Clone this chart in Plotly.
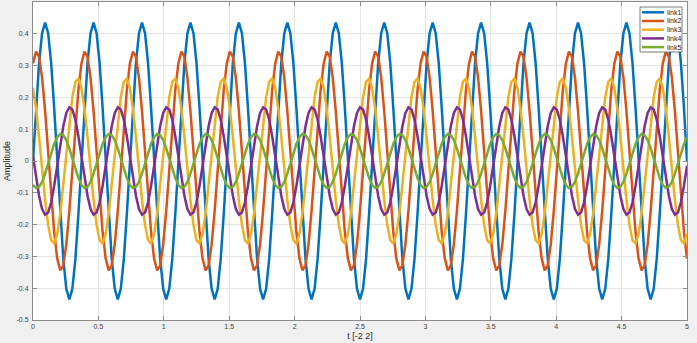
import numpy as np
import plotly.graph_objects as go

# ---------------- data ----------------
t_start, t_end, n_samples = 0.0, 5.0, 217

link1 = [
    0.0, 0.166, 0.308, 0.402, 0.435, 0.402, 0.308, 0.166, 0.0, -0.166, -0.308, -0.402, -0.435, -0.402, -0.308, -0.166,
    0.0, 0.166, 0.308, 0.402, 0.435, 0.402, 0.308, 0.166, 0.0, -0.166, -0.308, -0.402, -0.435, -0.402, -0.308, -0.166,
    0.0, 0.166, 0.308, 0.402, 0.435, 0.402, 0.308, 0.166, 0.0, -0.166, -0.308, -0.402, -0.435, -0.402, -0.308, -0.166,
    0.0, 0.166, 0.308, 0.402, 0.435, 0.402, 0.308, 0.166, 0.0, -0.166, -0.308, -0.402, -0.435, -0.402, -0.308, -0.166,
    0.0, 0.166, 0.308, 0.402, 0.435, 0.402, 0.308, 0.166, 0.0, -0.166, -0.308, -0.402, -0.435, -0.402, -0.308, -0.166,
    0.0, 0.166, 0.308, 0.402, 0.435, 0.402, 0.308, 0.166, 0.0, -0.166, -0.308, -0.402, -0.435, -0.402, -0.308, -0.166,
    0.0, 0.166, 0.308, 0.402, 0.435, 0.402, 0.308, 0.166, 0.0, -0.166, -0.308, -0.402, -0.435, -0.402, -0.308, -0.166,
    0.0, 0.166, 0.308, 0.402, 0.435, 0.402, 0.308, 0.166, 0.0, -0.166, -0.308, -0.402, -0.435, -0.402, -0.308, -0.166,
    0.0, 0.166, 0.308, 0.402, 0.435, 0.402, 0.308, 0.166, 0.0, -0.166, -0.308, -0.402, -0.435, -0.402, -0.308, -0.166,
    0.0, 0.166, 0.308, 0.402, 0.435, 0.402, 0.308, 0.166, 0.0, -0.166, -0.308, -0.402, -0.435, -0.402, -0.308, -0.166,
    0.0, 0.166, 0.308, 0.402, 0.435, 0.402, 0.308, 0.166, 0.0, -0.166, -0.308, -0.402, -0.435, -0.402, -0.308, -0.166,
    0.0, 0.166, 0.308, 0.402, 0.435, 0.402, 0.308, 0.166, 0.0, -0.166, -0.308, -0.402, -0.435, -0.402, -0.308, -0.166,
    0.0, 0.166, 0.308, 0.402, 0.435, 0.402, 0.308, 0.166, 0.0, -0.166, -0.308, -0.402, -0.435, -0.402, -0.308, -0.166,
    0.0, 0.166, 0.308, 0.402, 0.435, 0.402, 0.308, 0.166, 0.0,
]

link2 = [
    0.307, 0.344, 0.328, 0.262, 0.157, 0.027, -0.107, -0.224, -0.307, -0.344, -0.328, -0.262, -0.157, -0.027, 0.107, 0.224,
    0.307, 0.344, 0.328, 0.262, 0.157, 0.027, -0.107, -0.224, -0.307, -0.344, -0.328, -0.262, -0.157, -0.027, 0.107, 0.224,
    0.307, 0.344, 0.328, 0.262, 0.157, 0.027, -0.107, -0.224, -0.307, -0.344, -0.328, -0.262, -0.157, -0.027, 0.107, 0.224,
    0.307, 0.344, 0.328, 0.262, 0.157, 0.027, -0.107, -0.224, -0.307, -0.344, -0.328, -0.262, -0.157, -0.027, 0.107, 0.224,
    0.307, 0.344, 0.328, 0.262, 0.157, 0.027, -0.107, -0.224, -0.307, -0.344, -0.328, -0.262, -0.157, -0.027, 0.107, 0.224,
    0.307, 0.344, 0.328, 0.262, 0.157, 0.027, -0.107, -0.224, -0.307, -0.344, -0.328, -0.262, -0.157, -0.027, 0.107, 0.224,
    0.307, 0.344, 0.328, 0.262, 0.157, 0.027, -0.107, -0.224, -0.307, -0.344, -0.328, -0.262, -0.157, -0.027, 0.107, 0.224,
    0.307, 0.344, 0.328, 0.262, 0.157, 0.027, -0.107, -0.224, -0.307, -0.344, -0.328, -0.262, -0.157, -0.027, 0.107, 0.224,
    0.307, 0.344, 0.328, 0.262, 0.157, 0.027, -0.107, -0.224, -0.307, -0.344, -0.328, -0.262, -0.157, -0.027, 0.107, 0.224,
    0.307, 0.344, 0.328, 0.262, 0.157, 0.027, -0.107, -0.224, -0.307, -0.344, -0.328, -0.262, -0.157, -0.027, 0.107, 0.224,
    0.307, 0.344, 0.328, 0.262, 0.157, 0.027, -0.107, -0.224, -0.307, -0.344, -0.328, -0.262, -0.157, -0.027, 0.107, 0.224,
    0.307, 0.344, 0.328, 0.262, 0.157, 0.027, -0.107, -0.224, -0.307, -0.344, -0.328, -0.262, -0.157, -0.027, 0.107, 0.224,
    0.307, 0.344, 0.328, 0.262, 0.157, 0.027, -0.107, -0.224, -0.307, -0.344, -0.328, -0.262, -0.157, -0.027, 0.107, 0.224,
    0.307, 0.344, 0.328, 0.262, 0.157, 0.027, -0.107, -0.224, -0.307,
]

link3 = [
    0.230, 0.165, 0.076, -0.025, -0.122, -0.201, -0.249, -0.259, -0.230, -0.165, -0.076, 0.025, 0.122, 0.201, 0.249, 0.259,
    0.230, 0.165, 0.076, -0.025, -0.122, -0.201, -0.249, -0.259, -0.230, -0.165, -0.076, 0.025, 0.122, 0.201, 0.249, 0.259,
    0.230, 0.165, 0.076, -0.025, -0.122, -0.201, -0.249, -0.259, -0.230, -0.165, -0.076, 0.025, 0.122, 0.201, 0.249, 0.259,
    0.230, 0.165, 0.076, -0.025, -0.122, -0.201, -0.249, -0.259, -0.230, -0.165, -0.076, 0.025, 0.122, 0.201, 0.249, 0.259,
    0.230, 0.165, 0.076, -0.025, -0.122, -0.201, -0.249, -0.259, -0.230, -0.165, -0.076, 0.025, 0.122, 0.201, 0.249, 0.259,
    0.230, 0.165, 0.076, -0.025, -0.122, -0.201, -0.249, -0.259, -0.230, -0.165, -0.076, 0.025, 0.122, 0.201, 0.249, 0.259,
    0.230, 0.165, 0.076, -0.025, -0.122, -0.201, -0.249, -0.259, -0.230, -0.165, -0.076, 0.025, 0.122, 0.201, 0.249, 0.259,
    0.230, 0.165, 0.076, -0.025, -0.122, -0.201, -0.249, -0.259, -0.230, -0.165, -0.076, 0.025, 0.122, 0.201, 0.249, 0.259,
    0.230, 0.165, 0.076, -0.025, -0.122, -0.201, -0.249, -0.259, -0.230, -0.165, -0.076, 0.025, 0.122, 0.201, 0.249, 0.259,
    0.230, 0.165, 0.076, -0.025, -0.122, -0.201, -0.249, -0.259, -0.230, -0.165, -0.076, 0.025, 0.122, 0.201, 0.249, 0.259,
    0.230, 0.165, 0.076, -0.025, -0.122, -0.201, -0.249, -0.259, -0.230, -0.165, -0.076, 0.025, 0.122, 0.201, 0.249, 0.259,
    0.230, 0.165, 0.076, -0.025, -0.122, -0.201, -0.249, -0.259, -0.230, -0.165, -0.076, 0.025, 0.122, 0.201, 0.249, 0.259,
    0.230, 0.165, 0.076, -0.025, -0.122, -0.201, -0.249, -0.259, -0.230, -0.165, -0.076, 0.025, 0.122, 0.201, 0.249, 0.259,
    0.230, 0.165, 0.076, -0.025, -0.122, -0.201, -0.249, -0.259, -0.230,
]

link4 = [
    0.015, -0.051, -0.109, -0.151, -0.169, -0.162, -0.130, -0.078, -0.015, 0.051, 0.109, 0.151, 0.169, 0.162, 0.130, 0.078,
    0.015, -0.051, -0.109, -0.151, -0.169, -0.162, -0.130, -0.078, -0.015, 0.051, 0.109, 0.151, 0.169, 0.162, 0.130, 0.078,
    0.015, -0.051, -0.109, -0.151, -0.169, -0.162, -0.130, -0.078, -0.015, 0.051, 0.109, 0.151, 0.169, 0.162, 0.130, 0.078,
    0.015, -0.051, -0.109, -0.151, -0.169, -0.162, -0.130, -0.078, -0.015, 0.051, 0.109, 0.151, 0.169, 0.162, 0.130, 0.078,
    0.015, -0.051, -0.109, -0.151, -0.169, -0.162, -0.130, -0.078, -0.015, 0.051, 0.109, 0.151, 0.169, 0.162, 0.130, 0.078,
    0.015, -0.051, -0.109, -0.151, -0.169, -0.162, -0.130, -0.078, -0.015, 0.051, 0.109, 0.151, 0.169, 0.162, 0.130, 0.078,
    0.015, -0.051, -0.109, -0.151, -0.169, -0.162, -0.130, -0.078, -0.015, 0.051, 0.109, 0.151, 0.169, 0.162, 0.130, 0.078,
    0.015, -0.051, -0.109, -0.151, -0.169, -0.162, -0.130, -0.078, -0.015, 0.051, 0.109, 0.151, 0.169, 0.162, 0.130, 0.078,
    0.015, -0.051, -0.109, -0.151, -0.169, -0.162, -0.130, -0.078, -0.015, 0.051, 0.109, 0.151, 0.169, 0.162, 0.130, 0.078,
    0.015, -0.051, -0.109, -0.151, -0.169, -0.162, -0.130, -0.078, -0.015, 0.051, 0.109, 0.151, 0.169, 0.162, 0.130, 0.078,
    0.015, -0.051, -0.109, -0.151, -0.169, -0.162, -0.130, -0.078, -0.015, 0.051, 0.109, 0.151, 0.169, 0.162, 0.130, 0.078,
    0.015, -0.051, -0.109, -0.151, -0.169, -0.162, -0.130, -0.078, -0.015, 0.051, 0.109, 0.151, 0.169, 0.162, 0.130, 0.078,
    0.015, -0.051, -0.109, -0.151, -0.169, -0.162, -0.130, -0.078, -0.015, 0.051, 0.109, 0.151, 0.169, 0.162, 0.130, 0.078,
    0.015, -0.051, -0.109, -0.151, -0.169, -0.162, -0.130, -0.078, -0.015,
]

link5 = [
    -0.075, -0.085, -0.081, -0.066, -0.040, -0.008, 0.025, 0.054, 0.075, 0.085, 0.081, 0.066, 0.040, 0.008, -0.025, -0.054,
    -0.075, -0.085, -0.081, -0.066, -0.040, -0.008, 0.025, 0.054, 0.075, 0.085, 0.081, 0.066, 0.040, 0.008, -0.025, -0.054,
    -0.075, -0.085, -0.081, -0.066, -0.040, -0.008, 0.025, 0.054, 0.075, 0.085, 0.081, 0.066, 0.040, 0.008, -0.025, -0.054,
    -0.075, -0.085, -0.081, -0.066, -0.040, -0.008, 0.025, 0.054, 0.075, 0.085, 0.081, 0.066, 0.040, 0.008, -0.025, -0.054,
    -0.075, -0.085, -0.081, -0.066, -0.040, -0.008, 0.025, 0.054, 0.075, 0.085, 0.081, 0.066, 0.040, 0.008, -0.025, -0.054,
    -0.075, -0.085, -0.081, -0.066, -0.040, -0.008, 0.025, 0.054, 0.075, 0.085, 0.081, 0.066, 0.040, 0.008, -0.025, -0.054,
    -0.075, -0.085, -0.081, -0.066, -0.040, -0.008, 0.025, 0.054, 0.075, 0.085, 0.081, 0.066, 0.040, 0.008, -0.025, -0.054,
    -0.075, -0.085, -0.081, -0.066, -0.040, -0.008, 0.025, 0.054, 0.075, 0.085, 0.081, 0.066, 0.040, 0.008, -0.025, -0.054,
    -0.075, -0.085, -0.081, -0.066, -0.040, -0.008, 0.025, 0.054, 0.075, 0.085, 0.081, 0.066, 0.040, 0.008, -0.025, -0.054,
    -0.075, -0.085, -0.081, -0.066, -0.040, -0.008, 0.025, 0.054, 0.075, 0.085, 0.081, 0.066, 0.040, 0.008, -0.025, -0.054,
    -0.075, -0.085, -0.081, -0.066, -0.040, -0.008, 0.025, 0.054, 0.075, 0.085, 0.081, 0.066, 0.040, 0.008, -0.025, -0.054,
    -0.075, -0.085, -0.081, -0.066, -0.040, -0.008, 0.025, 0.054, 0.075, 0.085, 0.081, 0.066, 0.040, 0.008, -0.025, -0.054,
    -0.075, -0.085, -0.081, -0.066, -0.040, -0.008, 0.025, 0.054, 0.075, 0.085, 0.081, 0.066, 0.040, 0.008, -0.025, -0.054,
    -0.075, -0.085, -0.081, -0.066, -0.040, -0.008, 0.025, 0.054, 0.075,
]

series_names = ["link1", "link2", "link3", "link4", "link5"]
series_values = [link1, link2, link3, link4, link5]

x_tick_values = [0, 0.5, 1, 1.5, 2, 2.5, 3, 3.5, 4, 4.5, 5]
x_tick_labels = ["0", "0.5", "1", "1.5", "2", "2.5", "3", "3.5", "4", "4.5", "5"]
y_tick_values = [-0.5, -0.4, -0.3, -0.2, -0.1, 0, 0.1, 0.2, 0.3, 0.4, 0.5]
y_tick_labels = ["-0.5", "-0.4", "-0.3", "-0.2", "-0.1", "0", "0.1", "0.2", "0.3", "0.4", "0.5"]

x_title = "t [-2 2]"
y_title = "Amplitude"

# ---------------- style ----------------
colors = ["#0072BD", "#D95319", "#EDB120", "#7E2F8E", "#77AC30"]
FONT = "Liberation Sans, Arial, Helvetica, sans-serif"
W, H = 697, 343
ML, MR, MT, MB = 33, 10, 2, 23

t = np.linspace(t_start, t_end, n_samples)

fig = go.Figure()
for name, ys, col in zip(series_names, series_values, colors):
    fig.add_trace(go.Scatter(x=t, y=ys, mode="lines", name=name,
                             line=dict(color=col, width=2.5), showlegend=False))

# compact MATLAB-like legend (layout decoration in paper coordinates)
pw, ph = W - ML - MR, H - MT - MB
def px_x(px):
    return (px - ML) / pw
def px_y(py):
    return (H - MB - py) / ph

shapes = [dict(type="rect", xref="paper", yref="paper",
               x0=px_x(640), x1=px_x(682), y0=px_y(52), y1=px_y(7),
               fillcolor="white", line=dict(color="#595959", width=0.8), layer="above")]
annotations = []
for k, (name, col) in enumerate(zip(series_names, colors)):
    yc = 12.3 + 8.7 * k
    shapes.append(dict(type="line", xref="paper", yref="paper",
                       x0=px_x(642), x1=px_x(664), y0=px_y(yc), y1=px_y(yc),
                       line=dict(color=col, width=2.5), layer="above"))
    annotations.append(dict(xref="paper", yref="paper", x=px_x(665), y=px_y(yc),
                            xanchor="left", yanchor="middle", text=name, showarrow=False,
                            font=dict(family=FONT, size=7, color="#262626")))

axis_common = dict(
    showline=True, linecolor="#8c8c8c", linewidth=1, mirror="ticks",
    ticks="inside", ticklen=4, tickcolor="#8c8c8c", tickwidth=1,
    showgrid=True, gridcolor="#e4e4e4", gridwidth=1, zeroline=False,
    tickfont=dict(family=FONT, size=7, color="#404040"),
)

fig.update_layout(
    width=W, height=H,
    margin=dict(l=ML, r=MR, t=MT, b=MB, pad=0),
    paper_bgcolor="#f0f0f0", plot_bgcolor="white",
    font=dict(family=FONT),
    shapes=shapes, annotations=annotations,
    xaxis=dict(range=[t_start, t_end], tickvals=x_tick_values, ticktext=x_tick_labels,
               title=dict(text=x_title, font=dict(family=FONT, size=9, color="#262626"), standoff=3),
               **axis_common),
    yaxis=dict(range=[-0.5, 0.5], tickvals=y_tick_values, ticktext=y_tick_labels,
               ticklabelstandoff=2,
               title=dict(text=y_title, font=dict(family=FONT, size=9, color="#262626"), standoff=4),
               **axis_common),
)

fig.write_html("out.html")
